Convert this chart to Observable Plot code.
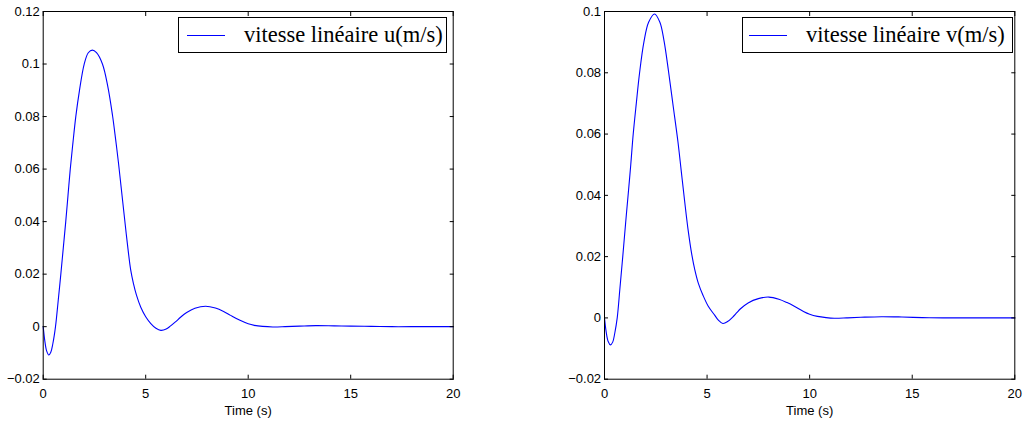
<!DOCTYPE html>
<html><head><meta charset="utf-8">
<script src="https://cdn.jsdelivr.net/npm/d3@7"></script>
<script src="https://cdn.jsdelivr.net/npm/@observablehq/plot@0.6"></script>
<style>
body{margin:0;background:#fff;}
#wrap{position:relative;width:1025px;height:421px;overflow:hidden;background:#fff;}
.panel{position:absolute;top:0;}
.legend{position:absolute;top:17px;height:36px;border:1px solid #000;background:#fff;box-sizing:border-box;font-family:"Liberation Serif","Times New Roman",serif;font-size:22.5px;display:flex;align-items:center;white-space:nowrap;color:#000;}
.legend .sw{display:inline-block;width:38px;height:0;border-top:1px solid #0000ff;margin-right:19px;}
</style></head><body><div id="wrap"></div>
<script>
// Time values (s) and series
const timeU = [0, 0.08, 0.17, 0.27, 0.37, 0.47, 0.6, 0.73, 0.86, 0.98, 1.10, 1.21, 1.32, 1.45, 1.59, 1.77, 2.0, 2.2, 2.4, 2.6, 2.89, 3.15, 3.38, 3.53, 3.67, 3.81, 3.95, 4.1, 4.27, 4.4, 4.55, 4.76, 5.0, 5.25, 5.5, 5.74, 6.0, 6.2, 6.45, 6.7, 7.0, 7.4, 7.92, 8.4, 8.8, 9.14, 9.6, 10.0, 10.3, 10.7, 11.2, 11.8, 12.5, 13.3, 14.2, 15, 16, 17, 18, 20];
const speedU = [0, -0.0055, -0.0093, -0.0108, -0.0097, -0.0065, 0, 0.0098, 0.02, 0.03, 0.04, 0.05, 0.06, 0.07, 0.08, 0.09, 0.1, 0.1043, 0.1053, 0.1043, 0.1, 0.0915, 0.0805, 0.0715, 0.0625, 0.0525, 0.0425, 0.032, 0.0215, 0.0165, 0.012, 0.0074, 0.0038, 0.0012, -0.0006, -0.0014, -0.0009, 0.0002, 0.0018, 0.0036, 0.0054, 0.007, 0.0078, 0.0071, 0.0058, 0.0043, 0.0024, 0.0011, 0.0005, 0.0001, -0.0001, 0, 0.0002, 0.0004, 0.0003, 0.0002, 0.0001, 0, 0, 0];

const timeV = [0, 0.08, 0.18, 0.29, 0.4, 0.5, 0.62, 0.75, 0.89, 1.03, 1.17, 1.28, 1.40, 1.55, 1.71, 1.92, 2.15, 2.44, 2.7, 2.9, 3.12, 3.35, 3.58, 3.74, 3.9, 4.07, 4.26, 4.4, 4.58, 4.8, 5.05, 5.37, 5.55, 5.77, 6.0, 6.24, 6.45, 6.63, 7.0, 7.5, 8.01, 8.5, 8.9, 9.23, 9.7, 10.0, 10.38, 10.8, 11.2, 11.8, 12.5, 13.5, 14.5, 15.5, 16.5, 18, 20];
const speedV = [0, -0.0045, -0.0077, -0.0088, -0.0079, -0.005, 0, 0.0095, 0.02, 0.031, 0.0415, 0.05, 0.06, 0.07, 0.08, 0.09, 0.0965, 0.0992, 0.0965, 0.0905, 0.0805, 0.069, 0.0575, 0.048, 0.0385, 0.029, 0.0205, 0.0158, 0.0112, 0.0074, 0.0039, 0.0009, -0.0007, -0.0018, -0.0012, 0.0002, 0.0017, 0.003, 0.0049, 0.0063, 0.0068, 0.0061, 0.005, 0.0039, 0.0021, 0.0012, 0.0005, 0.0001, -0.0001, 0, 0.0002, 0.0004, 0.0003, 0.0001, 0, 0, 0];

const xTicks = [0, 5, 10, 15, 20];
const yTicksU = [-0.02, 0, 0.02, 0.04, 0.06, 0.08, 0.1, 0.12];
const yTicksV = [-0.02, 0, 0.02, 0.04, 0.06, 0.08, 0.1];
const legendU = "vitesse linéaire u(m/s)";
const legendV = "vitesse linéaire v(m/s)";
const xLabel = "Time (s)";

const fmt = d => d === 0 ? "0" : String(+d.toFixed(4)).replace("-", "−");

function panel(cfg) {
  const data = cfg.t.map((t, i) => ({t, v: cfg.vals[i]}));
  const chart = Plot.plot({
    width: cfg.width, height: 421,
    marginLeft: cfg.mL, marginRight: cfg.mR, marginTop: 11, marginBottom: 42.3,
    style: {fontFamily: "'Liberation Sans', Arial, sans-serif", fontSize: "13px", color: "#000", background: "#fff"},
    x: {domain: [0, 20], label: xLabel},
    y: {domain: cfg.yDomain, label: null},
    marks: [
      Plot.line(data, {x: "t", y: "v", stroke: "#0000ff", strokeWidth: 1.1, curve: "catmull-rom"}),
      Plot.frame({stroke: "#000", strokeWidth: 1}),
      Plot.axisX({anchor: "bottom", ticks: xTicks, tickSize: -4, tickPadding: 13.4, tickFormat: d => String(d), label: xLabel, labelAnchor: "center", labelArrow: "none", labelOffset: 36, fontSize: 13}),
      Plot.axisX({anchor: "top", ticks: xTicks, tickSize: -4, tickFormat: () => "", label: null}),
      Plot.axisY({anchor: "left", ticks: cfg.yTicks, tickSize: -4, tickPadding: 7.4, tickFormat: fmt, label: null, fontSize: 13}),
      Plot.axisY({anchor: "right", ticks: cfg.yTicks, tickSize: -4, tickFormat: () => "", label: null})
    ]
  });
  chart.classList.add("panel");
  chart.style.left = cfg.left + "px";
  document.getElementById("wrap").appendChild(chart);

  const leg = document.createElement("div");
  leg.className = "legend";
  leg.style.left = cfg.legLeft + "px";
  leg.style.width = cfg.legWidth + "px";
  leg.style.paddingLeft = cfg.swInset + "px";
  const sw = document.createElement("span");
  sw.className = "sw";
  leg.appendChild(sw);
  leg.appendChild(document.createTextNode(cfg.legendText));
  document.getElementById("wrap").appendChild(leg);
}

panel({t: timeU, vals: speedU, yDomain: [-0.02, 0.12], yTicks: yTicksU, left: 0, width: 470, mL: 42.7, mR: 17.3, legendText: legendU, legLeft: 178, legWidth: 269, swInset: 8});
panel({t: timeV, vals: speedV, yDomain: [-0.02, 0.1], yTicks: yTicksV, left: 560, width: 465, mL: 44, mR: 10.7, legendText: legendV, legLeft: 742, legWidth: 271, swInset: 6});
</script></body></html>
